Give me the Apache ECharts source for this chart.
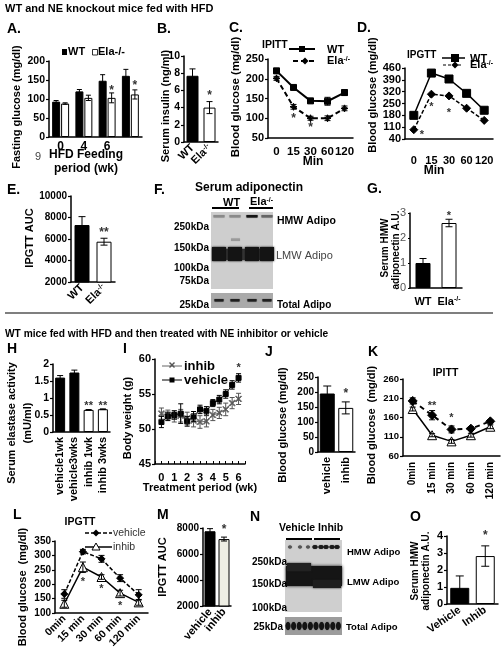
<!DOCTYPE html>
<html><head><meta charset="utf-8">
<script src="https://cdn.jsdelivr.net/npm/echarts@6/dist/echarts.min.js"></script>
<style>html,body{margin:0;padding:0;background:#fff}#c{width:502px;height:660px}</style>
</head><body><div id="c"></div>
<script>
// ---------------- DATA ----------------
const aCategories = ['0', '4', '6', ''];
const aWT = [93, 120, 148, 161];
const aWTErr = [3, 5, 16, 17];
const aKO = [88, 103, 103, 112];
const aKOErr = [2, 7, 13, 12];
const aStars = [[2, 129, '*'], [3, 143, '*']];

const bCategories = ['WT', 'Ela-/-'];
const bValues = [7.7, 4.0];
const bErr = [0.8, 0.7];
const bStars = [[1, 5.7, '*']];

const minCategories = ['0', '15', '30', '60', '120'];
const cWT = [220, 178, 144, 143, 165];
const cWTErr = [6, 4, 5, 10, 7];
const cKO = [201, 129, 100, 100, 125];
const cKOErr = [5, 6, 5, 6, 6];
const cStars = [[1, 107, '*'], [2, 84, '*']];

const dWT = [180, 430, 395, 310, 210];
const dKO = [95, 305, 295, 222, 150];
const dStars = [[0, 83, '*', 8], [1, 249, '*'], [2, 213, '*']];

const eCategories = ['WT', 'Ela-/-'];
const eValues = [7300, 5750];
const eErr = [780, 320];
const eStars = [[1, 6850, '**']];

const gCategories = ['WT', 'Ela-/-'];
const gValues = [1.0, 2.6];
const gErr = [0.18, 0.15];
const gStars = [[1, 3.0, '*']];

const hCategories = ['vehicle1wk', 'vehicle3wks', 'inhib 1wk', 'inhib 3wks'];
const hValues = [1.6, 1.75, 0.65, 0.67];
const hErr = [0.06, 0.07, 0.01, 0.01];
const hStars = [[2, 0.85, '**'], [3, 0.85, '**']];

const iWeeks = [0, 0.5, 1, 1.5, 2, 2.5, 3, 3.5, 4, 4.5, 5, 5.5, 6];
const iVehicle = [51.0, 51.8, 52.0, 52.2, 51.1, 51.8, 52.8, 52.6, 53.7, 54.2, 55.0, 56.3, 57.3];
const iVehicleErr = [0.8, 0.6, 0.6, 1.4, 0.7, 0.7, 0.6, 0.6, 0.5, 0.6, 0.6, 0.6, 0.6];
const iInhib = [52.2, 52.0, 51.8, 51.9, 51.5, 51.2, 51.0, 51.1, 52.0, 52.3, 52.8, 53.7, 54.3];
const iInhibErr = [0.8, 0.7, 0.8, 0.9, 0.9, 0.9, 0.9, 0.8, 0.8, 0.8, 0.9, 0.8, 0.8];
const iStars = [[6, 59.2, '*']];

const jCategories = ['vehicle', 'inhib'];
const jValues = [195, 147];
const jErr = [25, 20];
const jStars = [[1, 206, '*']];

const kCategories = ['0min', '15 min', '30 min', '60 min', '120 min'];
const kVehicle = [203, 166, 129, 131, 150];
const kVehicleErr = [8, 12, 9, 5, 4];
const kInhib = [182, 114, 98, 114, 136];
const kInhibErr = [5, 4, 5, 5, 5];
const kStars = [[1, 198, '**'], [2, 166, '*']];

const lCategories = ['0min', '15 min', '30 min', '60 min', '120 min'];
const lVehicle = [166, 313, 288, 221, 163];
const lVehicleErr = [15, 8, 12, 12, 18];
const lInhib = [132, 259, 225, 169, 137];
const lInhibErr = [12, 18, 8, 10, 10];
const lStars = [[1, 219, '*'], [2, 194, '*'], [3, 136, '*']];

const mCategories = ['vehicle', 'inhib'];
const mValues = [7750, 7150];
const mErr = [200, 150];
const mStars = [[1, 8100, '*']];

const oCategories = ['Vehicle', 'Inhib'];
const oValues = [0.95, 2.82];
const oErr = [0.7, 0.6];
const oStars = [[1, 4.18, '*']];

// ---------------- HELPERS ----------------
const FONT = '"Liberation Sans", Arial, Helvetica, sans-serif';
const grids = [], xAxes = [], yAxes = [], series = [], graphics = [];
const plain = v => String(v);

function merge(a, b) {
  for (const k in b) {
    if (b[k] && typeof b[k] === 'object' && !Array.isArray(b[k]) && a[k] && typeof a[k] === 'object') merge(a[k], b[k]);
    else a[k] = b[k];
  }
  return a;
}
function valAxis(min, max, interval, opts) {
  return merge({
    type: 'value', min, max, interval,
    axisLine: { show: true, onZero: false, lineStyle: { color: '#000', width: 1.5 } },
    axisTick: { show: true, length: 3, lineStyle: { color: '#000', width: 1.2 } },
    splitLine: { show: false },
    axisLabel: { color: '#000', fontSize: 10.5, fontWeight: 'bold', fontFamily: FONT, margin: 4, formatter: plain }
  }, opts || {});
}
const elaRich = {
  n: { fontSize: 11, fontWeight: 'bold', fontFamily: FONT, color: '#000' },
  s: { fontSize: 7, fontWeight: 'bold', fontFamily: FONT, color: '#000', verticalAlign: 'top' }
};
function elaFmt(v) { return v === 'Ela-/-' ? '{n|Ela}{s|-/-}' : '{n|' + v + '}'; }
function catAxis(data, opts) {
  return merge({
    type: 'category', data,
    axisLine: { show: true, onZero: false, lineStyle: { color: '#000', width: 1.5 } },
    axisTick: { show: false },
    axisLabel: { color: '#000', fontSize: 11, fontWeight: 'bold', fontFamily: FONT, margin: 5, interval: 0 }
  }, opts || {});
}
function panel(g, x, y) {
  grids.push({ left: g[0], top: g[1], width: g[2], height: g[3] });
  const gi = grids.length - 1;
  x.gridIndex = gi; y.gridIndex = gi;
  xAxes.push(x); yAxes.push(y);
  return gi;
}
function bars(gi, values, colors, width, gap) {
  const s = {
    type: 'bar', xAxisIndex: gi, yAxisIndex: gi, barWidth: width, silent: true, z: 2,
    data: values.map((v, i) => ({ value: v, itemStyle: { color: Array.isArray(colors) ? colors[i] : colors } })),
    itemStyle: { borderColor: '#000', borderWidth: 1 }
  };
  if (gap !== undefined) s.barGap = gap;
  series.push(s);
}
function errs(gi, xs, ys, es, offset, cap, color) {
  series.push({
    type: 'custom', xAxisIndex: gi, yAxisIndex: gi, z: 5, silent: true,
    data: ys.map((y, i) => [xs[i], y, es[i]]),
    renderItem(params, api) {
      const x = api.value(0), y = api.value(1), e = api.value(2);
      const hi = api.coord([x, y + e]), lo = api.coord([x, y - e]), c = api.coord([x, y]);
      const cx = c[0] + offset;
      const st = { stroke: color || '#000', lineWidth: 1 };
      return { type: 'group', children: [
        { type: 'line', shape: { x1: cx, y1: hi[1], x2: cx, y2: lo[1] }, style: st },
        { type: 'line', shape: { x1: cx - cap, y1: hi[1], x2: cx + cap, y2: hi[1] }, style: st },
        { type: 'line', shape: { x1: cx - cap, y1: lo[1], x2: cx + cap, y2: lo[1] }, style: st }
      ] };
    }
  });
}
function stars(gi, pts, offset, size) {
  series.push({
    type: 'custom', xAxisIndex: gi, yAxisIndex: gi, z: 6, silent: true,
    data: pts.map(p => [p[0], p[1]]),
    renderItem(params, api) {
      const p = pts[params.dataIndex];
      const c = api.coord([api.value(0), api.value(1)]);
      return { type: 'text', x: c[0] + (offset || 0) + (p[3] || 0), y: c[1] + 3,
        style: { text: p[2], fontSize: size || 12, fontWeight: 'bold', fontFamily: FONT, fill: '#333', align: 'center', verticalAlign: 'middle' } };
    }
  });
}
function line(gi, data, o) {
  series.push({
    type: 'line', xAxisIndex: gi, yAxisIndex: gi, data, symbol: o.symbol, symbolSize: o.size, showSymbol: true, z: 4, silent: true,
    lineStyle: { color: o.color || '#000', width: o.lw || 1.5, type: o.dash ? o.dash : 'solid' },
    itemStyle: { color: o.fill || '#000', borderColor: o.color || '#000', borderWidth: o.bw || 1 }
  });
}
function idx(n) { return Array.from({ length: n }, (_, i) => i); }

function txt(s, x, y, size, o) {
  o = o || {};
  const st = { text: s, fontSize: size, fontWeight: o.weight || 'bold', fontFamily: FONT, fill: o.color || '#000', align: o.align || 'left', verticalAlign: 'middle' };
  if (o.rich) st.rich = o.rich;
  graphics.push({ type: 'text', x, y, rotation: o.rot || 0, style: st, silent: true, z: 10 });
}
function rect(x, y, w, h, fill, o) {
  o = o || {};
  graphics.push({ type: 'rect', shape: { x, y, width: w, height: h }, silent: true, z: o.z || 1,
    style: { fill, stroke: o.stroke || null, lineWidth: o.lw || 0, shadowBlur: o.blur || 0, shadowColor: o.blur ? fill : 'transparent' } });
}
function ell(cx, cy, rx, ry, fill, blur) {
  graphics.push({ type: 'ellipse', shape: { cx, cy, rx, ry }, silent: true, z: 3, style: { fill, shadowBlur: blur || 0, shadowColor: fill } });
}
function seg(x1, y1, x2, y2, stroke, lw, dash) {
  graphics.push({ type: 'line', shape: { x1, y1, x2, y2 }, silent: true, z: 9, style: { stroke, lineWidth: lw || 1, lineDash: dash || null } });
}
function poly(points, fill, stroke, lw) {
  graphics.push({ type: 'polygon', shape: { points }, silent: true, z: 10, style: { fill, stroke: stroke || null, lineWidth: lw || 0 } });
}
function diamond(cx, cy, r, fill) { poly([[cx, cy - r], [cx + r, cy], [cx, cy + r], [cx - r, cy]], fill); }
function elaText(x, y, size) {
  txt('{n|Ela}{s|-/-}', x, y, size, { rich: {
    n: { fontSize: size, fontWeight: 'bold', fontFamily: FONT, fill: '#000' },
    s: { fontSize: size * 0.62, fontWeight: 'bold', fontFamily: FONT, fill: '#000', verticalAlign: 'top' } } });
}
const starSym = 'path://M5,0L6.6,3.4L10,5L6.6,6.6L5,10L3.4,6.6L0,5L3.4,3.4Z';
const xSym = 'path://M0,1L1,0L5,4L9,0L10,1L6,5L10,9L9,10L5,6L1,10L0,9L4,5Z';

// ---------------- PANELS ----------------
// A
let gi = panel([49, 61, 93, 76], catAxis(aCategories, { axisLabel: { fontSize: 12, margin: 4 } }), valAxis(0, 200, 50));
bars(gi, aWT, '#000', 8, '12%');
bars(gi, aKO, '#fff', 8, '12%');
errs(gi, idx(4), aWT, aWTErr, -4.5, 2.5);
errs(gi, idx(4), aKO, aKOErr, 4.5, 2.5);
stars(gi, aStars, 4.5);

// B
gi = panel([184, 56, 34, 86], catAxis(bCategories, { axisLabel: { rotate: 45, margin: 4, formatter: elaFmt, rich: elaRich } }), valAxis(0, 10, 2));
bars(gi, bValues, ['#000', '#fff'], 12);
errs(gi, idx(2), bValues, bErr, 0, 3);
stars(gi, bStars, 0);

// C
gi = panel([268, 59, 85, 79], catAxis(minCategories, { axisLabel: { fontSize: 11.5, margin: 8 } }), valAxis(50, 250, 50, { axisLabel: { fontSize: 11 } }));
errs(gi, idx(5), cWT, cWTErr, 0, 3);
errs(gi, idx(5), cKO, cKOErr, 0, 3);
line(gi, cWT, { symbol: 'rect', size: 6, lw: 2 });
line(gi, cKO, { symbol: starSym, size: 7, lw: 2, dash: [5, 3] });
stars(gi, cStars, 0);

// D
gi = panel([405, 68, 88, 71], catAxis(minCategories, { axisLabel: { fontSize: 11, margin: 16 } }), valAxis(40, 460, 70, { axisLabel: { fontSize: 11 } }));
line(gi, dWT, { symbol: 'rect', size: 8, lw: 1.5 });
line(gi, dKO, { symbol: 'diamond', size: 8, lw: 1.5, dash: [4, 2] });
stars(gi, dStars, 0, 11);

// E
gi = panel([71, 196, 44, 86], catAxis(eCategories, { axisLabel: { rotate: 45, margin: 4, formatter: elaFmt, rich: elaRich } }), valAxis(2000, 10000, 2000, { axisLabel: { fontSize: 10 } }));
bars(gi, eValues, ['#000', '#fff'], 15);
errs(gi, idx(2), eValues, eErr, 0, 3.5);
stars(gi, eStars, 0);

// G
gi = panel([410, 213, 52, 75], catAxis(gCategories, { axisLabel: { margin: 8, formatter: elaFmt, rich: elaRich } }),
  valAxis(0, 3, 1, { axisLabel: { fontWeight: 'normal', color: '#555', fontSize: 11 }, axisTick: { length: 2 } }));
bars(gi, gValues, ['#000', '#fff'], 15);
errs(gi, idx(2), gValues, gErr, 0, 3.5);
stars(gi, gStars, 0, 11);

// H
gi = panel([53, 364, 57, 68], catAxis(hCategories, { axisLabel: { rotate: 90, margin: 5 } }), valAxis(0, 2, 0.5));
bars(gi, hValues, ['#000', '#000', '#fff', '#fff'], 10);
errs(gi, idx(4), hValues, hErr, 0, 3);
stars(gi, hStars, 0, 11);

// I
gi = panel([155, 359, 90, 105], {
  type: 'value', min: -0.5, max: 6.5, interval: 0.5,
  axisLine: { show: true, onZero: false, lineStyle: { color: '#000', width: 1.5 } },
  axisTick: { show: true, inside: true, length: 3, lineStyle: { color: '#000' } },
  splitLine: { show: false },
  axisLabel: { color: '#000', fontSize: 11, fontWeight: 'bold', fontFamily: FONT, margin: 8,
    formatter: v => (Math.abs(v - Math.round(v)) < 1e-9 && v >= 0 && v <= 6) ? String(Math.round(v)) : '' }
}, valAxis(45, 60, 5, { axisLabel: { fontSize: 11 } }));
errs(gi, iWeeks, iInhib, iInhibErr, 0, 2.5, '#555');
errs(gi, iWeeks, iVehicle, iVehicleErr, 0, 2.5, '#000');
line(gi, iWeeks.map((w, i) => [w, iInhib[i]]), { symbol: xSym, size: 6, lw: 1, color: '#666', fill: '#555', bw: 0 });
line(gi, iWeeks.map((w, i) => [w, iVehicle[i]]), { symbol: 'rect', size: 5, lw: 1, color: '#000' });
stars(gi, iStars, 0, 11);

// J
gi = panel([318, 377, 37, 75], catAxis(jCategories, { axisLabel: { rotate: 90, margin: 5 } }), valAxis(0, 250, 50, { axisLabel: { fontSize: 10 } }));
bars(gi, jValues, ['#000', '#fff'], 15);
errs(gi, idx(2), jValues, jErr, 0, 4);
stars(gi, jStars, 0);

// K
gi = panel([403, 379, 97, 77], catAxis(kCategories, { axisLabel: { rotate: 90, margin: 6, fontSize: 10 } }), valAxis(60, 260, 50, { axisLabel: { fontSize: 9.5 } }));
errs(gi, idx(5), kVehicle, kVehicleErr, 0, 3);
errs(gi, idx(5), kInhib, kInhibErr, 0, 3);
line(gi, kInhib, { symbol: 'triangle', size: 9, lw: 1.5, fill: '#fff' });
line(gi, kVehicle, { symbol: 'diamond', size: 9, lw: 2, dash: [5, 4] });
stars(gi, kStars, 0, 11);

// L
gi = panel([55, 541, 93, 72], catAxis(lCategories, { axisLabel: { rotate: 45, margin: 4, fontSize: 10.5 } }), valAxis(100, 350, 50, { axisLabel: { fontSize: 10 } }));
errs(gi, idx(5), lVehicle, lVehicleErr, 0, 3);
errs(gi, idx(5), lInhib, lInhibErr, 0, 3);
line(gi, lInhib, { symbol: 'triangle', size: 9, lw: 1.5, fill: '#fff' });
line(gi, lVehicle, { symbol: 'diamond', size: 7, lw: 1.5, dash: [4, 2] });
stars(gi, lStars, 0, 11);

// M
gi = panel([203, 528, 28, 78], catAxis(mCategories, { axisLabel: { rotate: 50, margin: 4 } }), valAxis(2000, 8000, 2000, { axisLabel: { fontSize: 10 } }));
bars(gi, mValues, ['#000', '#eeeee4'], 11);
errs(gi, idx(2), mValues, mErr, 0, 3);
stars(gi, mStars, 0);

// O
gi = panel([447, 536, 51, 68], catAxis(oCategories, { axisLabel: { rotate: 35, margin: 5 } }), valAxis(0, 4, 1, { axisLabel: { fontSize: 11 } }));
bars(gi, oValues, ['#000', '#fff'], 19);
errs(gi, idx(2), oValues, oErr, 0, 4);
stars(gi, oStars, 0);

// ---------------- TEXT / ANNOTATIONS ----------------
txt('WT and NE knockout mice fed with HFD', 5, 9, 11);
txt('WT mice fed with HFD and then treated with NE inhibitor or vehicle', 5, 334.5, 10.2);
seg(5, 313, 493, 313, '#555', 1.5);

// panel letters
[['A.', 7, 29], ['B.', 157, 29], ['C.', 229, 28], ['D.', 357, 28], ['E.', 7, 190], ['F.', 154, 190], ['G.', 367, 189],
 ['H', 7, 349], ['I', 123, 349], ['J', 265, 352], ['K', 368, 352], ['L', 13, 515], ['M', 157, 515], ['N', 250, 517], ['O', 410, 517]]
  .forEach(l => txt(l[0], l[1], l[2], 14));

// y-axis titles
const R = Math.PI / 2;
txt('Fasting glucose (mg/dl)', 17, 107, 11, { rot: R, align: 'center' });
txt('Serum insulin (ng/ml)', 166, 106, 11, { rot: R, align: 'center' });
txt('Blood glucose (mg/dl)', 236, 97, 11.5, { rot: R, align: 'center' });
txt('Blood glucose (mg/dl)', 373, 95, 11, { rot: R, align: 'center' });
txt('IPGTT AUC', 30, 238, 11, { rot: R, align: 'center' });
txt('Serum HMW', 385, 248, 10, { rot: R, align: 'center' });
txt('adiponectin A.U.', 396, 250, 10, { rot: R, align: 'center' });
txt('Serum elastase activity', 12, 423, 11, { rot: R, align: 'center' });
txt('(mU/ml)', 28, 423, 11, { rot: R, align: 'center' });
txt('Body weight (g)', 128, 418, 11, { rot: R, align: 'center' });
txt('Blood glucose (mg/dl)', 283, 425, 11, { rot: R, align: 'center' });
txt('Blood glucose  (mg/dl)', 372, 425, 11, { rot: R, align: 'center' });
txt('Blood glucose  (mg/dl)', 23, 587, 11, { rot: R, align: 'center' });
txt('IPGTT AUC', 163, 567, 11, { rot: R, align: 'center' });
txt('Serum HMW', 415, 571, 10, { rot: R, align: 'center' });
txt('adiponectin A.U.', 426, 571, 10, { rot: R, align: 'center' });

// x-axis titles
txt('HFD Feeding', 86, 155, 12, { align: 'center' });
txt('period (wk)', 86, 169, 12, { align: 'center' });
txt('9', 38, 157, 11, { weight: 'normal', color: '#444', align: 'center' });
txt('Min', 313, 162, 12, { align: 'center' });
txt('Min', 434, 171, 12, { align: 'center' });
txt('Treatment period (wk)', 200, 488, 11, { align: 'center' });

// legends
rect(62, 49, 5, 6, '#000', { z: 10 });
txt('WT', 68, 52, 11);
rect(92.5, 49.5, 5, 5.5, '#fff', { stroke: '#000', lw: 0.8, z: 10 });
txt('Ela-/-', 98, 52, 11);

txt('IPITT', 262, 45, 10.5);
seg(289, 49, 315, 49, '#000', 2);
rect(299, 46, 6, 6, '#000', { z: 10 });
txt('WT', 327, 50, 11);
seg(293, 61, 317, 61, '#000', 2, [5, 3]);
diamond(305, 61, 3.5, '#000');
elaText(327, 61, 11);

txt('IPGTT', 407, 55, 10);
seg(442, 58, 465, 58, '#000', 1.5);
rect(451, 54, 8, 8, '#000', { z: 10 });
txt('WT', 470, 58.5, 11);
seg(443, 65, 463, 65, '#000', 1.2, [3, 2]);
diamond(455, 65, 3.5, '#000');
elaText(470, 65, 11);

seg(162, 366, 182, 366, '#666', 1);
poly([[169, 363], [170, 362], [172, 364], [174, 362], [175, 363], [173, 365], [175, 367], [174, 368], [172, 366], [170, 368], [169, 367], [171, 365]], '#555');
txt('inhib', 184, 366, 13);
seg(162, 380, 182, 380, '#000', 1);
rect(169.5, 377.5, 5, 5, '#000', { z: 10 });
txt('vehicle', 184, 380, 13);

txt('IPITT', 445.5, 373.5, 10.5, { align: 'center' });
txt('IPGTT', 80, 522, 10.5, { align: 'center' });
seg(85, 533, 112, 533, '#000', 1.5, [4, 2]);
diamond(96, 533, 3.5, '#000');
txt('vehicle', 113, 533, 10.5, { weight: 'normal', color: '#333' });
seg(85, 547, 112, 547, '#000', 1.5);
poly([[96, 543], [100, 550], [92, 550]], '#fff', '#000', 1);
txt('inhib', 113, 547, 10.5, { weight: 'normal', color: '#333' });

// ---------------- BLOT F ----------------
txt('Serum adiponectin', 195, 188, 12);
txt('WT', 223, 202.5, 11);
elaText(250, 202, 11);
seg(212, 208, 239, 208, '#000', 2);
seg(249, 208, 273, 208, '#000', 2);
rect(211, 212, 62, 77, '#cecece');
const fLanes = [219, 235, 252, 267];
const fHMW = ['#8a8a8a', '#8a8a8a', '#151515', '#666'];
fLanes.forEach((cx, i) => rect(cx - 5.5, 215, 11, 2.5, fHMW[i], { blur: 1, z: 3 }));
rect(231, 238.5, 9, 2.5, '#9a9a9a', { blur: 1, z: 3 });
rect(213, 249, 58, 11, '#3a3a3a', { blur: 2, z: 2 });
fLanes.forEach(cx => rect(cx - 7, 247, 14, 14, '#141414', { blur: 2, z: 3 }));
rect(211, 293, 62, 15, '#aaaaaa');
fLanes.forEach(cx => rect(cx - 4.5, 299, 9, 2.5, '#202020', { blur: 1, z: 3 }));
txt('HMW Adipo', 277, 221, 10.5);
txt('LMW Adipo', 276, 256, 11, { weight: 'normal', color: '#444' });
txt('Total Adipo', 277, 305, 10);
txt('250kDa', 209, 227, 10, { align: 'right' });
txt('150kDa', 209, 248, 10, { align: 'right' });
txt('100kDa', 209, 268, 10, { align: 'right' });
txt('75kDa', 209, 281, 10, { align: 'right' });
txt('25kDa', 209, 305, 10, { align: 'right' });

// ---------------- BLOT N ----------------
txt('Vehicle Inhib', 279, 528, 10.5);
seg(286, 539, 312, 539, '#000', 2);
seg(314, 539, 340, 539, '#000', 2);
rect(285, 540, 57, 72, '#cfcfcf');
[290, 300, 308].forEach(cx => ell(cx, 547, 2, 1.5, '#555', 1));
[315, 321, 326, 332, 337].forEach(cx => ell(cx, 547, 2.6, 2, '#1a1a1a', 1));
rect(286, 566, 56, 20, '#151515', { blur: 3, z: 2 });
rect(287, 563, 24, 8, '#222', { blur: 2, z: 2 });
rect(313, 580, 28, 8, '#1e1e1e', { blur: 2, z: 2 });
rect(285, 617, 57, 18, '#9c9c9c');
for (let i = 0; i < 10; i++) ell(288 + i * 5.6, 626, 2.4, 4, '#141414', 1);
txt('HMW Adipo', 347, 552, 9.5);
txt('LMW Adipo', 347, 582, 9.5);
txt('Total Adipo', 346, 627, 9.5);
txt('250kDa', 287, 562, 10, { align: 'right' });
txt('150kDa', 287, 584, 10, { align: 'right' });
txt('100kDa', 287, 608, 10, { align: 'right' });
txt('25kDa', 283, 627, 10, { align: 'right' });

// ---------------- CHART ----------------
const chart = echarts.init(document.getElementById('c'), null, { renderer: 'canvas' });
chart.setOption({
  animation: false,
  backgroundColor: '#fff',
  textStyle: { fontFamily: FONT },
  grid: grids,
  xAxis: xAxes,
  yAxis: yAxes,
  series: series,
  graphic: { elements: graphics }
});
</script></body></html>
